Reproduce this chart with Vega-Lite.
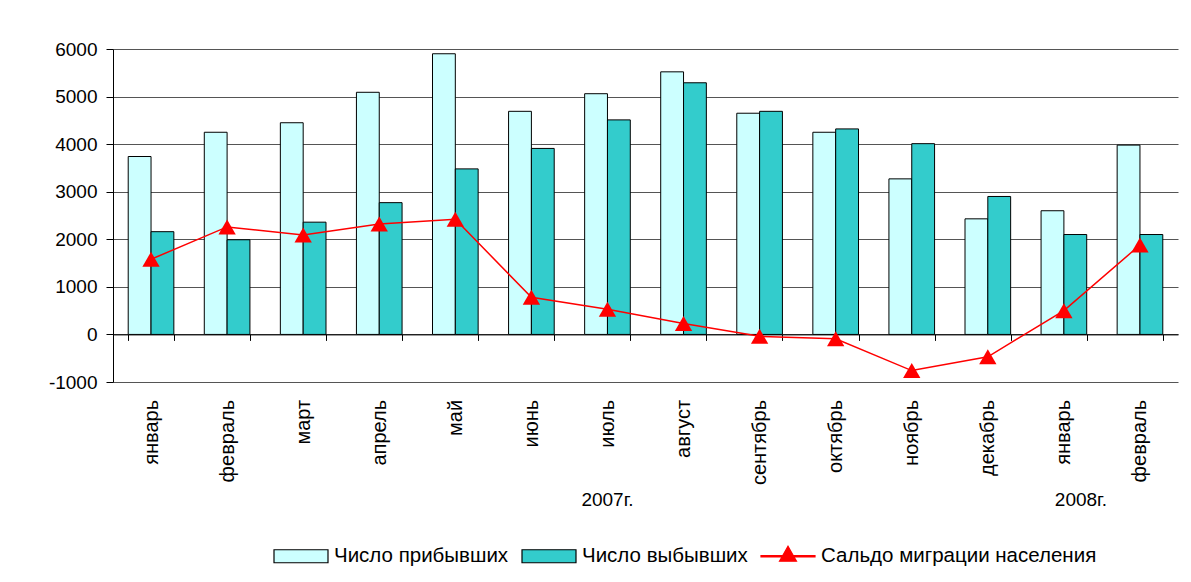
{
  "$schema": "https://vega.github.io/schema/vega-lite/v6.json",
  "width": 1065,
  "height": 333,
  "autosize": {"type": "none"},
  "padding": {"left": 113, "top": 49, "right": 13, "bottom": 200},
  "background": "white",
  "config": {
    "view": {"stroke": null},
    "font": "Liberation Sans",
    "axis": {"labelColor": "#000", "labelFont": "Liberation Sans"},
    "legend": {"labelColor": "#000", "labelFont": "Liberation Sans"}
  },
  "data": {
    "values": [
      {"m": "январь 2007", "Число прибывших": 3740, "Число выбывших": 2160, "Сальдо миграции населения": 1580},
      {"m": "февраль 2007", "Число прибывших": 4250, "Число выбывших": 1990, "Сальдо миграции населения": 2260},
      {"m": "март 2007", "Число прибывших": 4450, "Число выбывших": 2360, "Сальдо миграции населения": 2090},
      {"m": "апрель 2007", "Число прибывших": 5090, "Число выбывших": 2770, "Сальдо миграции населения": 2320},
      {"m": "май 2007", "Число прибывших": 5900, "Число выбывших": 3480, "Сальдо миграции населения": 2420},
      {"m": "июнь 2007", "Число прибывших": 4690, "Число выбывших": 3910, "Сальдо миграции населения": 780},
      {"m": "июль 2007", "Число прибывших": 5060, "Число выбывших": 4510, "Сальдо миграции населения": 530},
      {"m": "август 2007", "Число прибывших": 5520, "Число выбывших": 5290, "Сальдо миграции населения": 230},
      {"m": "сентябрь 2007", "Число прибывших": 4650, "Число выбывших": 4690, "Сальдо миграции населения": -40},
      {"m": "октябрь 2007", "Число прибывших": 4250, "Число выбывших": 4320, "Сальдо миграции населения": -90},
      {"m": "ноябрь 2007", "Число прибывших": 3270, "Число выбывших": 4010, "Сальдо миграции населения": -760},
      {"m": "декабрь 2007", "Число прибывших": 2430, "Число выбывших": 2900, "Сальдо миграции населения": -470},
      {"m": "январь 2008", "Число прибывших": 2600, "Число выбывших": 2100, "Сальдо миграции населения": 500},
      {"m": "февраль 2008", "Число прибывших": 3980, "Число выбывших": 2100, "Сальдо миграции населения": 1880}
    ]
  },
  "encoding": {
    "x": {
      "field": "m",
      "type": "nominal",
      "scale": {
        "domain": ["январь 2007", "февраль 2007", "март 2007", "апрель 2007", "май 2007", "июнь 2007", "июль 2007", "август 2007", "сентябрь 2007", "октябрь 2007", "ноябрь 2007", "декабрь 2007", "январь 2008", "февраль 2008"],
        "paddingInner": 0.4,
        "paddingOuter": 0.2
      },
      "axis": {
        "title": null,
        "labelExpr": "isString(datum.value) ? split(datum.value, ' ')[0] : ''",
        "labelAngle": -90,
        "labelAlign": "right",
        "labelBaseline": "middle",
        "labelFontSize": 20,
        "labelPadding": 59,
        "offset": -47.6,
        "tickBand": "extent",
        "ticks": true,
        "tickSize": 6,
        "tickColor": "#000",
        "tickWidth": 1,
        "domainColor": "#000",
        "domainWidth": 1,
        "grid": false
      }
    }
  },
  "layer": [
    {
      "transform": [{"fold": ["Число прибывших", "Число выбывших"], "as": ["series", "v"]}],
      "mark": {"type": "bar", "stroke": "#000", "strokeWidth": 1},
      "encoding": {
        "xOffset": {
          "field": "series",
          "type": "nominal",
          "scale": {"domain": ["Число прибывших", "Число выбывших"], "paddingInner": 0, "paddingOuter": 0}
        },
        "y": {
          "field": "v",
          "type": "quantitative",
          "scale": {"domain": [-1000, 6000], "nice": false, "zero": false},
          "axis": {
            "title": null,
            "values": [-1000, 0, 1000, 2000, 3000, 4000, 5000, 6000],
            "labelExpr": "'' + datum.value",
            "labelFontSize": 19,
            "labelPadding": 9,
            "tickSize": 7,
            "tickColor": "#000",
            "domainColor": "#000",
            "gridColor": "#555",
            "gridOpacity": 1,
            "grid": true
          }
        },
        "color": {
          "field": "series",
          "type": "nominal",
          "scale": {
            "domain": ["Число прибывших", "Число выбывших", "Сальдо миграции населения"],
            "range": ["#CCFFFF", "#33CCCC", "#FF0000"]
          },
          "legend": {
            "title": null,
            "orient": "none",
            "legendX": 160,
            "legendY": 479,
            "direction": "horizontal",
            "labelFontSize": 20.5,
            "labelLimit": 400,
            "labelOffset": 5,
            "columnPadding": 10,
            "symbolSize": 2916,
            "symbolType": "M-1,-0.24H1V0.24H-1Z",
            "symbolStrokeWidth": 1.2,
            "symbolStrokeColor": "#000",
            "encode": {
              "symbols": {
                "update": {
                  "shape": {"signal": "datum.value === 'Сальдо миграции населения' ? 'M-1,-0.028H-0.194L0,-0.37L0.194,-0.028H1V0.028H0.226L0.315,0.185H-0.315L-0.226,0.028H-1Z' : 'M-1,-0.24H1V0.24H-1Z'"},
                  "fill": {"signal": "datum.value === 'Число прибывших' ? '#CCFFFF' : datum.value === 'Число выбывших' ? '#33CCCC' : '#FF0000'"},
                  "stroke": {"signal": "datum.value === 'Сальдо миграции населения' ? '#FF0000' : '#000000'"},
                  "strokeWidth": {"value": 1.2},
                  "strokeOpacity": {"value": 1},
                  "opacity": {"value": 1},
                  "fillOpacity": {"value": 1}
                }
              }
            }
          }
        }
      }
    },
    {
      "transform": [{"fold": ["Сальдо миграции населения"], "as": ["series", "v"]}],
      "mark": {"type": "line", "strokeWidth": 1.5, "color": "#FF0000"},
      "encoding": {
        "y": {"field": "v", "type": "quantitative"}
      }
    },
    {
      "transform": [{"fold": ["Сальдо миграции населения"], "as": ["series", "v"]}],
      "mark": {"type": "point", "shape": "triangle-up", "filled": true, "size": 300, "opacity": 1, "color": "#FF0000"},
      "encoding": {
        "y": {"field": "v", "type": "quantitative"}
      }
    },
    {
      "data": {"values": [{"m": "июль 2007", "t": "2007г."}]},
      "mark": {"type": "text", "fontSize": 19, "color": "#000", "baseline": "middle", "align": "center"},
      "encoding": {
        "y": {"datum": -3480, "type": "quantitative"},
        "text": {"field": "t"}
      }
    },
    {
      "data": {"values": [{"m": "январь 2008", "t": "2008г."}]},
      "mark": {"type": "text", "fontSize": 19, "color": "#000", "baseline": "middle", "align": "center", "dx": 17},
      "encoding": {
        "y": {"datum": -3480, "type": "quantitative"},
        "text": {"field": "t"}
      }
    }
  ]
}
